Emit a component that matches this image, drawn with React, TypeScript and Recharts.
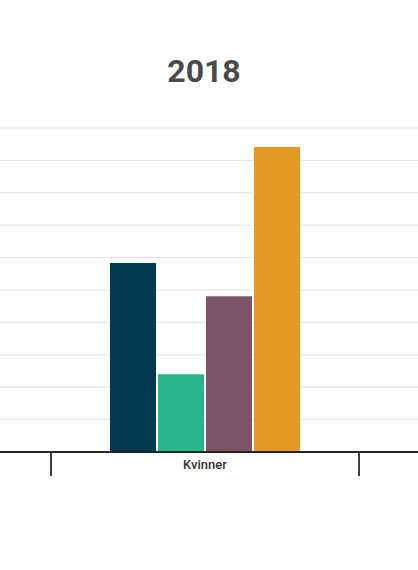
import React from 'react';
import { BarChart, Bar, XAxis, YAxis, CartesianGrid } from 'recharts';

const categories = ['Alle', 'Kvinner', 'Menn'];
const serieA = [4.6, 5.83, 3.42];
const serieB = [2.2, 2.4, 2.0];
const serieC = [4.9, 4.81, 5.0];
const serieD = [8.0, 9.41, 6.6];
const yTicks = [0, 1, 2, 3, 4, 5, 6, 7, 8, 9, 10];
const title = '2018';

const data = categories.map((c, i) => ({
  name: c,
  a: serieA[i],
  b: serieB[i],
  c: serieC[i],
  d: serieD[i],
}));

const HALF_BAND = 154;
const CHART_SHIFT = -257;
const VIEW_W = 418;

const CatTick = (props: any) => {
  const { x, y, payload } = props;
  const pageX = x + CHART_SHIFT;
  const inView = pageX > 30 && pageX < VIEW_W - 30;
  return (
    <g>
      <line x1={x - HALF_BAND} x2={x - HALF_BAND} y1={y} y2={y + 24} stroke="#333" strokeWidth={1.5} />
      <line x1={x + HALF_BAND} x2={x + HALF_BAND} y1={y} y2={y + 24} stroke="#333" strokeWidth={1.5} />
      {inView && (
        <text x={x} y={y + 17} textAnchor="middle" fontFamily="Roboto" fontWeight={500} fontSize={13} fill="#333">
          {payload.value}
        </text>
      )}
    </g>
  );
};

export default function App() {
  return (
    <div style={{ position: 'fixed', left: 0, top: 0, width: VIEW_W, height: 570, overflow: 'hidden', background: '#fff' }}>
      <div
        style={{
          position: 'absolute',
          left: 0,
          top: 55,
          width: 408,
          textAlign: 'center',
          fontFamily: 'Roboto',
          fontWeight: 700,
          fontSize: 32,
          lineHeight: '32px',
          color: '#4a4a4a',
        }}
      >
        {title}
      </div>
      <div style={{ position: 'absolute', left: CHART_SHIFT, top: 0 }}>
        <BarChart
          width={924}
          height={570}
          data={data}
          margin={{ top: 128, right: 0, bottom: 78, left: 0 }}
          barCategoryGap={59}
          barGap={2}
        >
          <CartesianGrid vertical={false} stroke="#e2e2e2" />
          <YAxis hide domain={[0, 10]} ticks={yTicks} />
          <XAxis
            dataKey="name"
            height={40}
            axisLine={{ stroke: '#222', strokeWidth: 2 }}
            tickLine={false}
            tickSize={0}
            tickMargin={0}
            tick={<CatTick />}
            interval={0}
          />
          <Bar dataKey="a" fill="#023852" isAnimationActive={false} />
          <Bar dataKey="b" fill="#27b68a" isAnimationActive={false} />
          <Bar dataKey="c" fill="#7e5468" isAnimationActive={false} />
          <Bar dataKey="d" fill="#e69a24" isAnimationActive={false} />
        </BarChart>
      </div>
    </div>
  );
}
